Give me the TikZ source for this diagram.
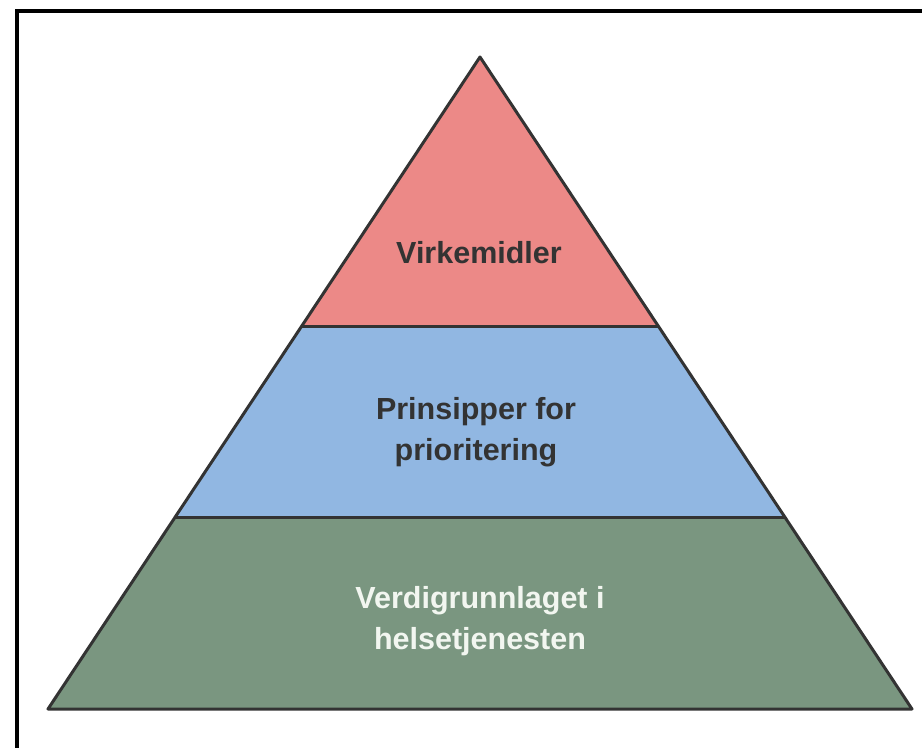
\documentclass[tikz,border=0pt]{standalone}
\usepackage{fontspec}
\setmainfont{Liberation Sans}
\definecolor{topred}{HTML}{EC8987}
\definecolor{midblue}{HTML}{91B7E2}
\definecolor{basegreen}{HTML}{7A9680}
\definecolor{edge}{HTML}{333333}
\definecolor{darktext}{HTML}{333333}
\definecolor{lighttext}{HTML}{F2F6F0}
\begin{document}
\begin{tikzpicture}[x=1pt,y=1pt,
  layer/.style={draw=edge,line width=3pt,line join=round},
  label/.style={font=\bfseries\fontsize{30.5}{41}\selectfont,align=center,inner sep=0pt}]
\useasboundingbox (0,0) rectangle (922,748);
% frame (only top and left edges visible)
\draw[line width=4.5pt,line join=miter] (922,737) -- (17,737) -- (17,0);
% corner coordinates
\coordinate (apex) at (480,691);
\coordinate (bl) at (48,39);
\coordinate (br) at (912,39);
\coordinate (l1) at (301,421);
\coordinate (r1) at (659,421);
\coordinate (l2) at (175,230);
\coordinate (r2) at (785,230);
% layers
\fill[basegreen] (bl) -- (br) -- (r2) -- (l2) -- cycle;
\fill[midblue] (l2) -- (r2) -- (r1) -- (l1) -- cycle;
\fill[topred] (l1) -- (r1) -- (apex) -- cycle;
\draw[layer] (bl) -- (br) -- (apex) -- cycle;
\draw[layer] (l1) -- (r1);
\draw[layer] (l2) -- (r2);
% texts
\node[label,text=darktext,anchor=base] (top) at (479,484) {Virkemidler};
\node[label,text=darktext] (mid) at (476,316) {Prinsipper for\\prioritering};
\node[label,text=lighttext] (base) at (480,127) {Verdigrunnlaget i\\helsetjenesten};
\end{tikzpicture}
\end{document}
